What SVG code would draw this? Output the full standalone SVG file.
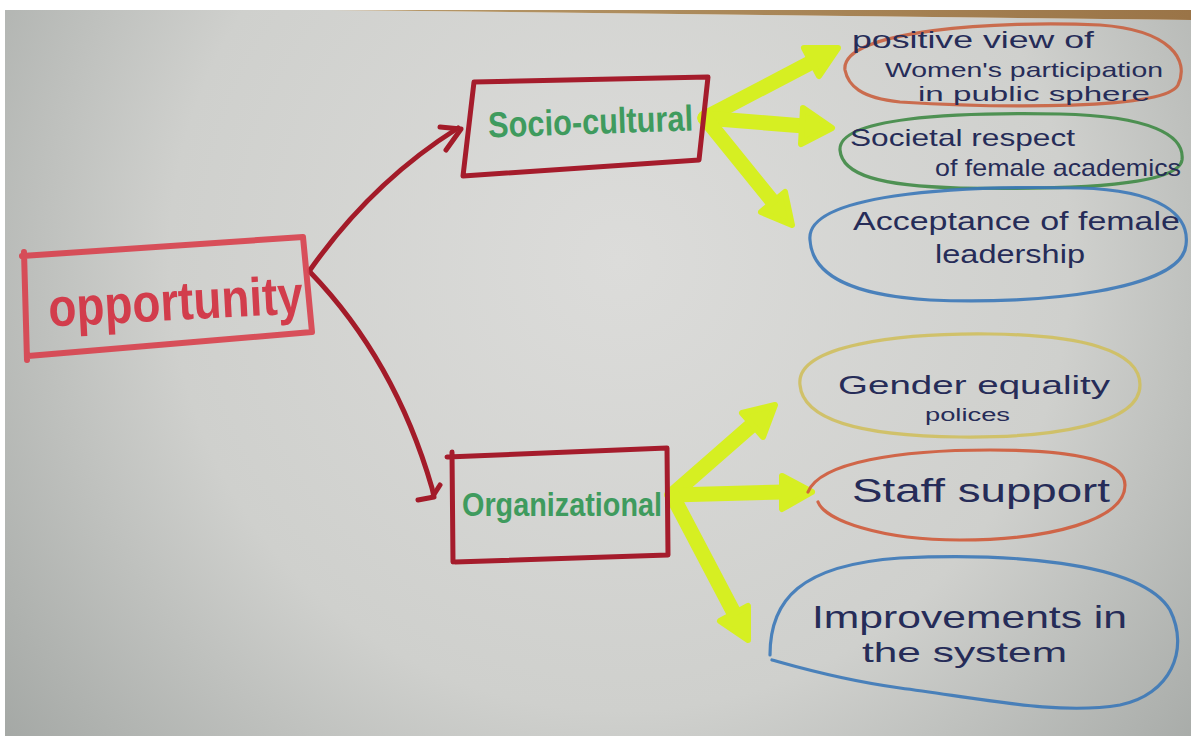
<svg xmlns="http://www.w3.org/2000/svg" width="1193" height="736" viewBox="0 0 1193 736">
  <defs>
    <radialGradient id="paper" cx="620" cy="260" r="820" gradientUnits="userSpaceOnUse">
      <stop offset="0" stop-color="#dcdcda"/>
      <stop offset="0.55" stop-color="#cfd0cd"/>
      <stop offset="1" stop-color="#9fa3a0"/>
    </radialGradient>
    <linearGradient id="wood" x1="0" y1="0" x2="1" y2="0">
      <stop offset="0" stop-color="#b89a6a"/>
      <stop offset="1" stop-color="#9a7447"/>
    </linearGradient>
  </defs>
  <style>
    .marker-red { fill: none; stroke: #d8434f; stroke-width: 6; stroke-linejoin: round; stroke-linecap: round; opacity: 0.92; }
    .box-dark { fill: none; stroke: #a51c2c; stroke-width: 5; stroke-linejoin: round; stroke-linecap: round; }
    .link { fill: none; stroke: #a31b29; stroke-width: 5; stroke-linecap: round; stroke-linejoin: round; }
    .hl { fill: none; stroke: #d6ef22; stroke-width: 15; stroke-linecap: round; }
    .hl-head { fill: #d6ef22; stroke: #d6ef22; stroke-width: 6; stroke-linejoin: round; }
    .crayon { fill: none; stroke-width: 3.2; stroke-linecap: round; opacity: 0.9; }
    .title-red { font-family: "Liberation Sans", "DejaVu Sans", sans-serif; font-weight: bold; fill: #d23d4c; }
    .title-green { font-family: "Liberation Sans", "DejaVu Sans", sans-serif; font-weight: bold; fill: #3f9b5e; }
    .ink { font-family: "Liberation Sans", "DejaVu Sans", sans-serif; fill: #262c58; }
  </style>

  <!-- page: white margin, table edge and sheet of paper -->
  <rect x="0" y="0" width="1193" height="736" fill="#ffffff"/>
  <path d="M5,10 L330,10 L1191,20 L1191,736 L5,736 Z" fill="url(#paper)"/>
  <path d="M330,10 L1191,10 L1191,20 Z" fill="url(#wood)"/>

  <!-- connectors -->
  <g id="connectors">
    <path class="link" d="M310,270 Q372,182 458,128"/>
    <path class="link" d="M440,127 L461,129 L446,150"/>
    <path class="link" d="M310,272 Q395,360 432,488 L434,497 L418,500"/>
    <path class="link" d="M433,496 L440,485"/>

    <line class="hl" x1="705" y1="118" x2="812" y2="62"/>
    <polygon class="hl-head" points="838,48 819,76 804,48"/>
    <line class="hl" x1="705" y1="118" x2="804" y2="126"/>
    <polygon class="hl-head" points="832,128 801,144 803,108"/>
    <line class="hl" x1="705" y1="118" x2="773" y2="202"/>
    <polygon class="hl-head" points="792,225 761,212 785,192"/>

    <line class="hl" x1="672" y1="495" x2="752" y2="425"/>
    <polygon class="hl-head" points="775,405 763,437 742,413"/>
    <line class="hl" x1="672" y1="495" x2="784" y2="492"/>
    <polygon class="hl-head" points="812,492 782,509 782,476"/>
    <line class="hl" x1="672" y1="495" x2="734" y2="613"/>
    <polygon class="hl-head" points="748,640 720,621 748,606"/>
  </g>

  <g id="opportunity">
    <path class="marker-red" d="M22,256 L303,237 L312,332 L28,356 M24,252 L27,360"/>
    <text class="title-red" x="48" y="320" font-size="54" textLength="255" lengthAdjust="spacingAndGlyphs" transform="rotate(-3 175 300)">opportunity</text>
  </g>

  <g id="socio-cultural">
    <path class="box-dark" d="M474,82 L708,77 L699,160 L463,176 Z"/>
    <text class="title-green" x="488" y="134" font-size="36" textLength="205" lengthAdjust="spacingAndGlyphs" transform="rotate(-2 590 120)">Socio-cultural</text>
  </g>

  <g id="organizational">
    <path class="box-dark" d="M447,457 L667,448 L668,555 L455,562 M452,452 L453,562"/>
    <text class="title-green" x="462" y="516" font-size="34" textLength="200" lengthAdjust="spacingAndGlyphs">Organizational</text>
  </g>

  <g id="positive-view">
    <path class="crayon" stroke="#c9603f" d="M845,70 C840,30 1000,20 1100,25 C1170,30 1190,60 1178,85 C1165,110 1000,108 900,102 C860,98 848,85 845,70 Z"/>
    <text class="ink" x="852" y="48" font-size="24" textLength="242" lengthAdjust="spacingAndGlyphs">positive view of</text>
    <text class="ink" x="885" y="77" font-size="21" textLength="278" lengthAdjust="spacingAndGlyphs">Women's participation</text>
    <text class="ink" x="918" y="101" font-size="20" textLength="232" lengthAdjust="spacingAndGlyphs">in public sphere</text>
  </g>

  <g id="societal-respect">
    <path class="crayon" stroke="#3f8a45" d="M840,150 C838,118 950,112 1060,114 C1150,116 1185,135 1182,160 C1178,185 1080,190 960,188 C880,186 842,175 840,150 Z"/>
    <text class="ink" x="850" y="146" font-size="24" textLength="225" lengthAdjust="spacingAndGlyphs">Societal respect</text>
    <text class="ink" x="935" y="176" font-size="24" textLength="246" lengthAdjust="spacingAndGlyphs">of female academics</text>
  </g>

  <g id="female-leadership">
    <path class="crayon" stroke="#3b78b8" d="M810,240 C805,195 950,185 1080,188 C1160,190 1190,215 1186,245 C1182,290 1040,305 930,300 C850,295 812,275 810,240 Z"/>
    <text class="ink" x="853" y="230" font-size="26" textLength="327" lengthAdjust="spacingAndGlyphs">Acceptance of female</text>
    <text class="ink" x="935" y="263" font-size="26" textLength="150" lengthAdjust="spacingAndGlyphs">leadership</text>
  </g>

  <g id="gender-equality">
    <path class="crayon" stroke="#cfbf5e" d="M800,385 C795,345 900,333 990,334 C1080,335 1140,350 1140,385 C1140,425 1050,438 960,437 C860,436 803,420 800,385 Z"/>
    <text class="ink" x="838" y="394" font-size="26" textLength="272" lengthAdjust="spacingAndGlyphs">Gender equality</text>
    <text class="ink" x="925" y="421" font-size="18" textLength="85" lengthAdjust="spacingAndGlyphs">polices</text>
  </g>

  <g id="staff-support">
    <path class="crayon" stroke="#cf5a3a" d="M808,492 C820,462 900,450 990,450 C1080,450 1125,462 1125,485 C1125,520 1050,540 960,540 C880,540 825,520 818,502"/>
    <text class="ink" x="852" y="502" font-size="34" textLength="258" lengthAdjust="spacingAndGlyphs">Staff support</text>
  </g>

  <g id="improvements">
    <path class="crayon" stroke="#3b78b8" d="M770,655 C770,600 800,565 900,558 C1000,553 1140,560 1170,610 C1190,650 1170,695 1120,705 C1060,715 990,700 900,688 C840,680 790,665 772,660"/>
    <text class="ink" x="812" y="628" font-size="32" textLength="315" lengthAdjust="spacingAndGlyphs">Improvements in</text>
    <text class="ink" x="862" y="662" font-size="28" textLength="205" lengthAdjust="spacingAndGlyphs">the system</text>
  </g>
</svg>
